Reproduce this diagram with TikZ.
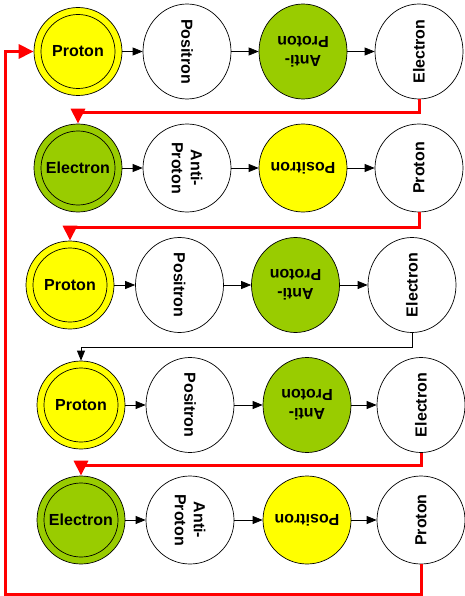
\documentclass[tikz,border=0pt]{standalone}
\usepackage{fontspec}
\setmainfont{Liberation Sans}
\usetikzlibrary{arrows.meta,shapes.geometric}
\definecolor{partyellow}{HTML}{FFFF00}
\definecolor{partgreen}{HTML}{99CC00}
\definecolor{loopred}{HTML}{FF0000}
\tikzset{
  particle/.style={draw=black,line width=0.7pt,circle,minimum size=88pt,inner sep=0pt,
    font=\bfseries\fontsize{16}{19}\selectfont,align=center},
  tall/.style={ellipse,minimum width=88pt,minimum height=95pt},
  tallside/.style={ellipse,minimum width=95pt,minimum height=88pt},
  ring/.style={path picture={\draw[line width=0.7pt] (path picture bounding box.center) circle[radius=37pt];}},
  flow/.style={draw=black,line width=0.7pt,-{Triangle[length=10pt,width=8pt]}},
  jump/.style={draw=loopred,line width=3pt,-{Triangle[length=15pt,width=14pt]}}
}
\begin{document}
\begin{tikzpicture}[x=1pt,y=-1pt]
    \useasboundingbox (0,0) rectangle (464,596);
    % row 1
    \node[particle,fill=partyellow,ring] (p1a) at (78,51.5) {Proton};
    \node[particle,tallside,rotate=-90] (p1b) at (187,51.5) {Positron};
    \node[particle,tall,fill=partgreen,rotate=180] (p1c) at (303,51.5) {Anti-\\Proton};
    \node[particle,tallside,rotate=90] (p1d) at (419,51.5) {Electron};
    % row 2
    \node[particle,fill=partgreen,ring] (p2a) at (78,168) {Electron};
    \node[particle,rotate=-90] (p2b) at (187,168) {Anti-\\Proton};
    \node[particle,fill=partyellow,rotate=180] (p2c) at (303,168) {Positron};
    \node[particle,rotate=90] (p2d) at (419,168) {Proton};
    % row 3
    \node[particle,fill=partyellow,ring] (p3a) at (70,285) {Proton};
    \node[particle,tallside,rotate=-90] (p3b) at (179.5,285) {Positron};
    \node[particle,tall,fill=partgreen,rotate=180] (p3c) at (295.5,285) {Anti-\\Proton};
    \node[particle,tallside,rotate=90] (p3d) at (412,285) {Electron};
    % row 4
    \node[particle,fill=partyellow,ring] (p4a) at (81,405) {Proton};
    \node[particle,tallside,rotate=-90] (p4b) at (190,405) {Positron};
    \node[particle,tall,fill=partgreen,rotate=180] (p4c) at (307,405) {Anti-\\Proton};
    \node[particle,tallside,rotate=90] (p4d) at (421,405) {Electron};
    % row 5
    \node[particle,fill=partgreen,ring] (p5a) at (81,520) {Electron};
    \node[particle,rotate=-90] (p5b) at (190,520) {Anti-\\Proton};
    \node[particle,fill=partyellow,rotate=180] (p5c) at (307,520) {Positron};
    \node[particle,rotate=90] (p5d) at (421,520) {Proton};
    \coordinate (loopcorner) at (5,594);
    % arrows in each row
    \draw[flow] (p1a) -- (p1b);
    \draw[flow] (p1b) -- (p1c);
    \draw[flow] (p1c) -- (p1d);
    \draw[flow] (p2a) -- (p2b);
    \draw[flow] (p2b) -- (p2c);
    \draw[flow] (p2c) -- (p2d);
    \draw[flow] (p3a) -- (p3b);
    \draw[flow] (p3b) -- (p3c);
    \draw[flow] (p3c) -- (p3d);
    \draw[flow] (p4a) -- (p4b);
    \draw[flow] (p4b) -- (p4c);
    \draw[flow] (p4c) -- (p4d);
    \draw[flow] (p5a) -- (p5b);
    \draw[flow] (p5b) -- (p5c);
    \draw[flow] (p5c) -- (p5d);
    % links between rows
    \draw[jump] (p1d) -- ++(0,61.5) -| (p2a);
    \draw[jump] (p2d) -- ++(0,59) -| (p3a);
    \draw[flow] (p3d) -- ++(0,62) -| (p4a);
    \draw[jump] (p4d) -- ++(0,60) -| (p5a);
    \draw[jump] (p5d) |- (loopcorner) |- (p1a);
\end{tikzpicture}
\end{document}
